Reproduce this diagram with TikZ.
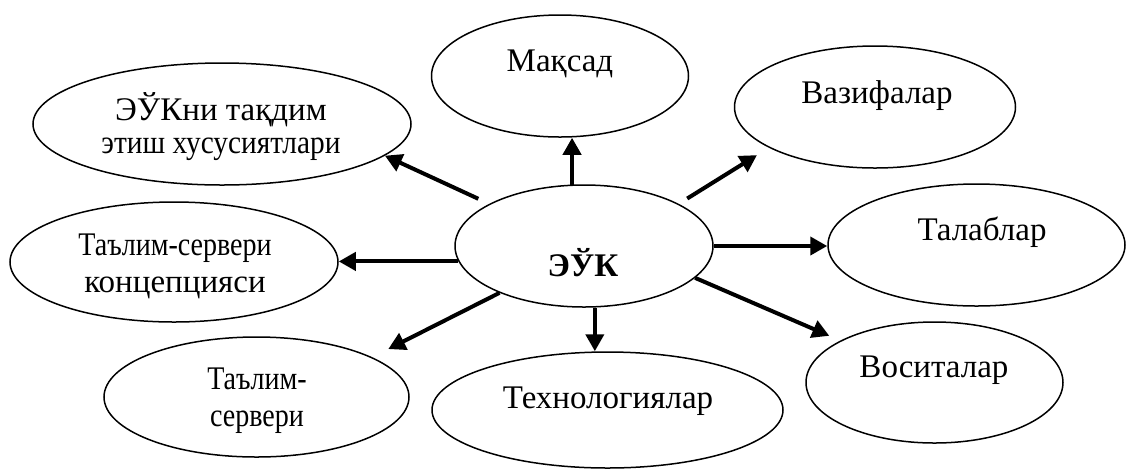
\documentclass[tikz,border=0pt]{standalone}
\usepackage{fontspec}
\setmainfont{Liberation Serif}
\usepackage{graphicx}
\usetikzlibrary{shapes.geometric, arrows.meta}
\newcommand{\squeezed}[2]{\scalebox{#1}[1]{#2}}

\begin{document}
\begin{tikzpicture}[x=0.5pt, y=-0.5pt,
    oval/.style={ellipse, draw, line width=0.75pt, inner sep=0pt},
    txt/.style={font=\fontsize{16.5}{18.5}\selectfont, inner sep=0pt, align=center},
    arr/.style={line width=2pt, -{Triangle[length=8.5pt, width=9pt]}}]
  \useasboundingbox (0,0) rectangle (1126,468);

  % Define nodes
  \node[oval, minimum width=129pt, minimum height=61pt] (core) at (584,246) {};      % Central node
  \node[oval, minimum width=128.5pt, minimum height=61pt] (goal) at (560,76) {};
  \node[oval, minimum width=140.5pt, minimum height=61pt] (tasks) at (875,107) {};
  \node[oval, minimum width=148.5pt, minimum height=61pt] (reqs) at (976.5,245) {};
  \node[oval, minimum width=128.5pt, minimum height=60.5pt] (tools) at (934.5,382.5) {};
  \node[oval, minimum width=175.5pt, minimum height=58pt] (tech) at (607.5,410) {};
  \node[oval, minimum width=152.5pt, minimum height=60pt] (server) at (256.5,397) {};
  \node[oval, minimum width=164pt, minimum height=60pt] (concept) at (174,262) {};
  \node[oval, minimum width=189pt, minimum height=61pt] (present) at (222,124) {};

  % Texts
  \node[txt, anchor=base, font=\fontsize{16.5}{18.5}\selectfont\bfseries] (coreText) at (583,276) {ЭЎК};
  \node[txt, anchor=base] (goalText) at (560,71) {Мақсад};
  \node[txt, anchor=base] (tasksText) at (877,103) {Вазифалар};
  \node[txt, anchor=base] (reqsText) at (982,240) {Талаблар};
  \node[txt, anchor=base] (toolsText) at (934,377) {Воситалар};
  \node[txt, anchor=base] (techText) at (608,408) {Технологиялар};
  \node[txt] (serverText) at (257,401) {\squeezed{0.85}{Таълим-}\\\squeezed{0.85}{сервери}};
  \node[txt] (conceptText) at (175,266) {\squeezed{0.85}{Таълим-сервери}\\концепцияси};
  \node[txt] (presentText) at (221,127) {ЭЎКни тақдим\\[-2pt]\squeezed{0.89}{этиш хусусиятлари}};

  % Connect nodes with arrows
  \draw[arr] (core.101) -- (core.101 |- goal.south);
  \draw[arr, shorten <=5pt, shorten >=7pt] (core.24) -- (tasks.201);
  \draw[arr] (core.east) -- (core.east -| reqs.west);
  \draw[arr, shorten >=6pt] (core.344) -- (tools.156);
  \draw[arr] (core.280) -- (core.280 |- tech.north);
  \draw[arr, shorten >=9pt] (core.209) -- (server.19.5);
  \draw[arr] (core.187) -- (core.187 -| concept.east);
  \draw[arr, shorten <=6pt] (core.156.5) -- (present.349);
\end{tikzpicture}
\end{document}
